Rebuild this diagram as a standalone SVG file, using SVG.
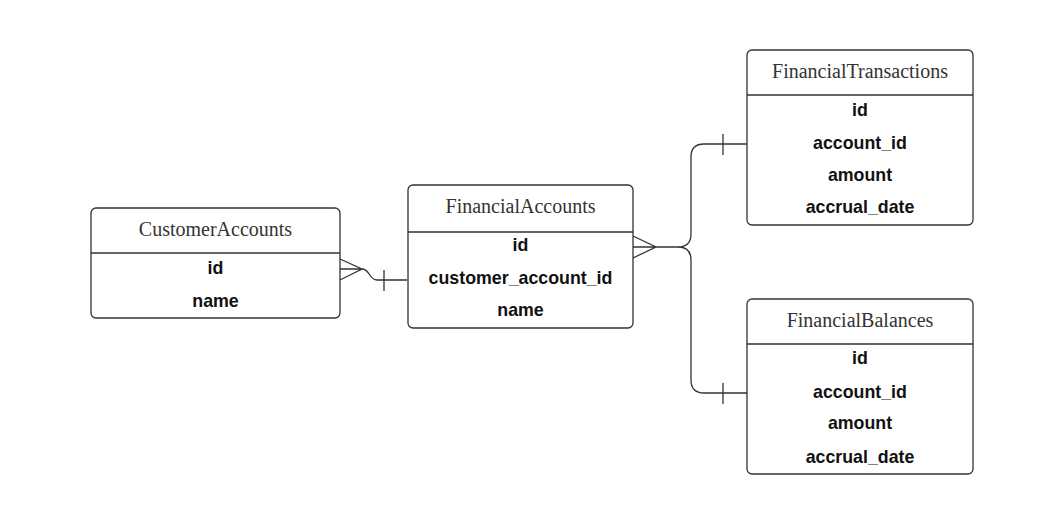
<svg xmlns="http://www.w3.org/2000/svg" width="1047" height="513" viewBox="0 0 1047 513">
<style>
.box{fill:#fff;stroke:#333;stroke-width:1.3}
.div{stroke:#333;stroke-width:1.3}
.title{font-family:"Liberation Serif",serif;font-size:20px;fill:#333;text-anchor:middle}
.fld{font-family:"Liberation Sans",Arial,sans-serif;font-size:17.8px;font-weight:bold;fill:#111;text-anchor:middle}
.con{fill:none;stroke:#333;stroke-width:1.3}
</style>
<rect width="1047" height="513" fill="#fff"/>
<g id="connectors">
<path class="con" d="M340,259 L362,269 L340,280 M340,269 L362,269 C370,269 369,280 377,280 L407,280 M384,270 L384,291"/>
<path class="con" d="M633,236 L656,247 L633,258 M633,247 L678,247 Q691,247 691,234 L691,157 Q691,144 704,144 L747,144 M678,247 Q691,247 691,260 L691,380 Q691,393 704,393 L747,393 M723,134 L723,155 M723,383 L723,404"/>
</g>
<g id="CustomerAccounts">
<rect class="box" x="91" y="208" width="249" height="110" rx="5"/>
<line class="div" x1="91" y1="253" x2="340" y2="253"/>
<text class="title" x="215.5" y="236">CustomerAccounts</text>
<text class="fld" x="215.5" y="274">id</text>
<text class="fld" x="215.5" y="307">name</text>
</g>
<g id="FinancialAccounts">
<rect class="box" x="408" y="185" width="225" height="143" rx="5"/>
<line class="div" x1="408" y1="232" x2="633" y2="232"/>
<text class="title" x="520.5" y="213">FinancialAccounts</text>
<text class="fld" x="520.5" y="251">id</text>
<text class="fld" x="520.5" y="284">customer_account_id</text>
<text class="fld" x="520.5" y="316">name</text>
</g>
<g id="FinancialTransactions">
<rect class="box" x="747" y="50" width="226" height="175" rx="5"/>
<line class="div" x1="747" y1="95" x2="973" y2="95"/>
<text class="title" x="860" y="78">FinancialTransactions</text>
<text class="fld" x="860" y="116">id</text>
<text class="fld" x="860" y="149">account_id</text>
<text class="fld" x="860" y="181">amount</text>
<text class="fld" x="860" y="213">accrual_date</text>
</g>
<g id="FinancialBalances">
<rect class="box" x="747" y="299" width="226" height="175" rx="5"/>
<line class="div" x1="747" y1="344" x2="973" y2="344"/>
<text class="title" x="860" y="327">FinancialBalances</text>
<text class="fld" x="860" y="364">id</text>
<text class="fld" x="860" y="398">account_id</text>
<text class="fld" x="860" y="429">amount</text>
<text class="fld" x="860" y="463">accrual_date</text>
</g>
</svg>
